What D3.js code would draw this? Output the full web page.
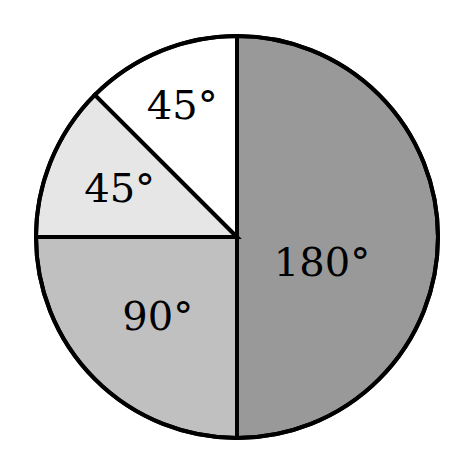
<!DOCTYPE html>
<html><head><meta charset="utf-8">
<script src="https://cdn.jsdelivr.net/npm/d3@7"></script>
<style>body{margin:0;background:#fff}</style></head>
<body><svg width="474" height="474"></svg>
<script>
const labels = ["180°","90°","45°","45°"];
const values = [180,90,45,45];
const colors = ["#999999","#c0c0c0","#e6e6e6","#ffffff"];
const labelR = [85,112,127,143];
const labelDy = [25,0,0,0];
const svg = d3.select("svg");
const g = svg.append("g").attr("transform","translate(237,237)");
const R = 201;
const pie = d3.pie().sort(null).value(d=>d)(values);
const arc = d3.arc().innerRadius(0).outerRadius(R);
g.selectAll("path").data(pie).enter().append("path")
  .attr("d",arc).attr("fill",(d,i)=>colors[i])
  .attr("stroke","#000").attr("stroke-width",4).attr("stroke-linejoin","miter");
g.append("circle").attr("r",R).attr("fill","none").attr("stroke","#000").attr("stroke-width",4);
g.selectAll("text").data(pie).enter().append("text")
  .attr("transform",(d,i)=>{const a=(d.startAngle+d.endAngle)/2;return `translate(${Math.sin(a)*labelR[i]},${-Math.cos(a)*labelR[i]+labelDy[i]})`;})
  .attr("text-anchor","middle").attr("dominant-baseline","central")
  .attr("font-family","DejaVu Serif, Liberation Serif, serif").attr("font-size",40)
  .text((d,i)=>labels[i]);
</script></body></html>
